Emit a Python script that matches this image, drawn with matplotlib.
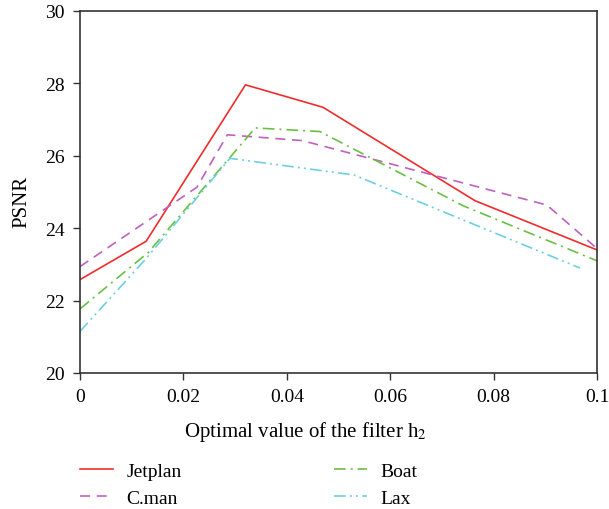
import matplotlib
matplotlib.use('Agg')
import matplotlib.pyplot as plt

# --- Data ---
jet_x = [0, 0.0128, 0.032, 0.047, 0.0764, 0.1]
jet_y = [22.58, 23.64, 27.96, 27.34, 24.76, 23.40]

cman_x = [0, 0.0226, 0.0285, 0.043, 0.0903, 0.1]
cman_y = [22.94, 25.13, 26.58, 26.42, 24.64, 23.44]

boat_x = [0, 0.0132, 0.0339, 0.0464, 0.0741, 0.1]
boat_y = [21.77, 23.33, 26.77, 26.67, 24.62, 23.10]

lax_x = [0, 0.0126, 0.029, 0.053, 0.0967]
lax_y = [21.15, 23.13, 25.93, 25.47, 22.90]

x_ticks = [0, 0.02, 0.04, 0.06, 0.08, 0.1]
x_tick_labels = ['0', '0.02', '0.04', '0.06', '0.08', '0.1']
y_ticks = [20, 22, 24, 26, 28, 30]

plt.rcParams['font.family'] = ['Liberation Serif', 'DejaVu Serif']
plt.rcParams['mathtext.fontset'] = 'stix'

fig = plt.figure(figsize=(6.09, 5.10), dpi=100)
ax = fig.add_axes([80 / 609, 1 - 374 / 510, 517 / 609, 362 / 510])

ax.plot(jet_x, jet_y, color='#f02c2c', lw=1.2, label='Jetplan')
ax.plot(cman_x, cman_y, color='#c060c0', lw=1.2, dashes=(6, 4), label='C.man')
ax.plot(boat_x, boat_y, color='#6abf45', lw=1.2, dashes=(7, 3, 1.2, 3), label='Boat')
ax.plot(lax_x, lax_y, color='#6cd0e0', lw=1.2, dashes=(7, 2.5, 1.2, 2.5, 1.2, 2.5), label='Lax')

ax.set_xlim(0, 0.1)
ax.set_ylim(20, 30)
ax.set_xticks(x_ticks)
ax.set_xticklabels(x_tick_labels)
ax.set_yticks(y_ticks)
ax.tick_params(direction='out', length=5, width=1, labelsize=14, color='#333333', pad=6)
for s in ax.spines.values():
    s.set_color('#333333')
    s.set_linewidth(1.2)

ax.set_xlabel('Optimal value of the filter h$_2$', fontsize=15)
ax.xaxis.set_label_coords(0.437, -0.127)
ax.set_ylabel('PSNR', fontsize=15)
ax.yaxis.set_label_coords(-0.094, 0.474)

fig.legend(loc='upper left', bbox_to_anchor=(80 / 609, 1 - 463 / 510), ncol=2, frameon=False,
           fontsize=14, handlelength=1.7, columnspacing=7.8, labelspacing=0.5,
           handletextpad=0.7, borderpad=0, borderaxespad=0)

fig.savefig('out.png', dpi=100)
